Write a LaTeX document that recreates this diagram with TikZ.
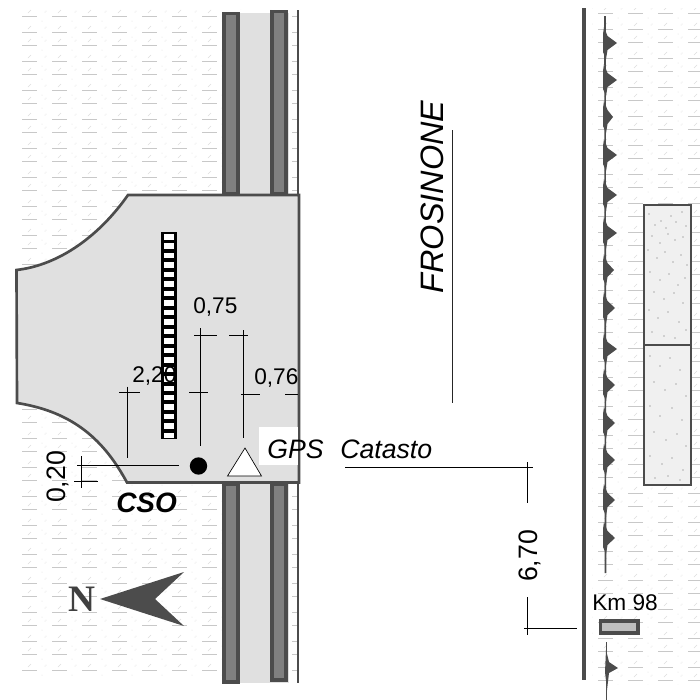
\documentclass[tikz,border=0pt]{standalone}
\usepackage{fontspec}
\setmainfont{Liberation Sans}
\newfontfamily\serifN{Liberation Serif}
\definecolor{ink}{HTML}{4C4C4C}
\definecolor{pale}{HTML}{E0E0E0}
\definecolor{barfill}{HTML}{808080}
\definecolor{hatch}{HTML}{C8C8C8}
\definecolor{speck}{HTML}{DEDEDE}
\tikzset{
  dim/.style={draw=black,line width=0.75pt},
  outl/.style={draw=ink,line width=2pt,line join=miter},
  barb/.style={outl,line width=2.6pt,fill=barfill},
  lab/.style={inner sep=0pt,anchor=base west,font=\fontsize{17}{17}\selectfont},
  labr/.style={inner sep=0pt,anchor=center,rotate=90,font=\fontsize{20}{20}\selectfont},
  tooth/.style={fill=ink,draw=none}
}
\newcommand{\hatchrow}[3]{% x start, y, count
  \foreach \i in {0,...,#3}{
    \pgfmathsetmacro{\xa}{#1+30*\i}
    \draw[hatch,line width=0.6pt] (\xa,#2) -- ++(15,0);
    \draw[speck,line width=0.5pt] (\xa+6,#2-3) -- ++(3,-3);
    \fill[speck] (\xa+20,#2+5) circle (0.5);
    \fill[speck] (\xa-6,#2-5) circle (0.5);
    \fill[speck] (\xa+23,#2-4) circle (0.5);
  }}
\begin{document}
\begin{tikzpicture}[x=0.75pt,y=-0.75pt]
\useasboundingbox (0,0) rectangle (700,700);
\fill[white] (0,0) rectangle (700,700);
% ground hatching
\begin{scope}
\clip (18,8) rectangle (298,684);
\foreach \k in {0,...,22}{
  \pgfmathsetmacro{\ya}{16+29*\k}\hatchrow{22}{\ya}{9}
  \pgfmathsetmacro{\yb}{32+29*\k}\hatchrow{22}{\yb}{9}
}
\end{scope}
\begin{scope}
\clip (592,8) rectangle (700,684);
\foreach \k in {0,...,23}{
  \pgfmathsetmacro{\ya}{13+29*\k}\hatchrow{598}{\ya}{3}
}
\foreach \k in {0,...,22}{
  \pgfmathsetmacro{\yb}{29+29*\k}\hatchrow{598}{\yb}{3}
}
\end{scope}
% road
\fill[white] (222,10) rectangle (291,684);
\fill[pale] (224,13) rectangle (289,683);
\draw[ink,line width=1.8pt] (298,10) -- (298,683);
\draw[barb] (224,13.5) rectangle (238,194);
\draw[barb] (272,11.5) rectangle (286,194);
\draw[barb] (224,484) rectangle (238,682);
\draw[barb] (272,484) rectangle (286,680);
% platform
\draw[outl,fill=pale] (128,195) -- (299,195) -- (299,482.5) -- (127,482.5)
  .. controls (105,442) and (75,412) .. (17,403)
  -- (16.5,270)
  .. controls (60,265) and (100,235) .. (128,195) -- cycle;
% ladder
\fill[black] (160.5,232) rectangle (177,439);
\foreach \r in {0,...,21}{
  \pgfmathsetmacro{\ry}{234+9.47*\r}
  \fill[white] (163.5,\ry) rectangle (174,\ry+5.5);
}
% white label patch
\fill[white] (259,427) rectangle (297.5,465);
% symbols
\node[circle,fill=black,inner sep=0pt,minimum size=13pt] (cso) at (198.5,466) {};
\draw[black,line width=0.5pt,fill=white] (245,448) -- (227.5,476) -- (261.5,476) -- cycle;
% dimensions
\draw[dim] (127.5,386.5) -- (127.5,458);
\draw[dim] (119,392) -- (140,392);
\draw[dim] (200.5,328) -- (200.5,446);
\draw[dim] (194,335) -- (217,335);
\draw[dim] (189,392) -- (208,392);
\draw[dim] (243.5,330) -- (243.5,438);
\draw[dim] (229,335) -- (248,335);
\draw[dim] (241,394) -- (260,394);
\draw[dim] (285,394) -- (298,394);
\draw[dim] (77,465.5) -- (179,465.5);
\draw[dim] (81.5,456) -- (81.5,488);
\draw[dim] (74,481.5) -- (98,481.5);
\draw[dim] (345,467) -- (533,467);
\draw[dim] (527,462) -- (527,503);
\draw[dim] (527,597) -- (527,635);
\draw[dim] (524,628) -- (577,628);
% labels
\node[lab] (l220) at (132,382) {2,20};
\node[lab] (l075) at (193,313) {0,75};
\node[lab] (l076) at (254,384) {0,76};
\node[labr] (l020) at (58,477) {0,20};
\node[labr] (l670) at (530,556) {6,70};
\node[lab,font=\fontsize{20}{20}\selectfont\itshape] (gps) at (267,458) {GPS};
\node[lab,font=\fontsize{20}{20}\selectfont\itshape] (cat) at (340,458) {Catasto};
\node[lab,font=\fontsize{21}{21}\selectfont\bfseries\itshape] (csolab) at (116,512) {CSO};
\node[inner sep=0pt,anchor=center,rotate=90,font=\fontsize{24.3}{24}\selectfont\itshape] (fro) at (432,197) {FROSINONE};
\draw[black!85,line width=0.75pt] (452,130) -- (452,403);
% north
\fill[ink] (100,599) -- (184,572) -- (155,599) -- (184,626) -- cycle;
\node[inner sep=0pt,anchor=center,text=black!75,font=\serifN\bfseries\fontsize{28}{28}\selectfont] (north) at (82,599.5) {N};
% long line
\draw[ink,line width=2.4pt] (584,8) -- (584,680);
% river
\draw[ink,line width=1.2pt] (605,16) -- (605.5,573);
\foreach \t/\w in {43/17,80/17,117/13,155/17,195/17,233/17,270/14,308/15,349/17,385/15,423/15,460/15,500/15,538/15}{
  \fill[tooth] (604,\t-16) -- (607.5,\t-7) -- (570+\w+30,\t+0) -- (607.5,\t+7) -- (606,\t+16) -- (603,\t+9) -- (603,\t-9) -- cycle;
}
\draw[ink,line width=1.2pt] (606.5,642) -- (606.5,700);
\fill[tooth] (606,650) -- (609,662) -- (618,668) -- (609,673) -- (607,690) -- (605,672) -- cycle;
% buildings
\fill[white!94!black] (644,205) rectangle (691,485);
\foreach \px/\py in {649/214,655/225,661/221,666/228,671/216,676/222,682/212,686/226,652/236,660/243,668/234,675/240,683/237,648/250,657/258,665/252,673/262,681/255,687/265,650/272,660/280,669/274,678/285,685/278,654/292,664/299,674/293,683/303,649/310,658/318,668/312,679/322,686/330,652/332,664/336,675/338,650/356,660/366,670/358,680/370,654/382,665/390,676/384,686/396,650/406,660/416,672/408,682/420,654/432,666/440,677/434,686/446,650/456,662/464,672/458,683/470,655/478,668/476,680/480}{
  \fill[black!60] (\px,\py) circle (0.55);
}
\draw[outl,line width=2.2pt] (644,205) rectangle (691,345);
\draw[outl,line width=2.2pt] (644,345) rectangle (691,485);
% km marker
\draw[outl,line width=2.4pt,fill=black!25] (600.5,621) rectangle (638,633);
\node[lab,font=\fontsize{17}{17}\selectfont] (km) at (592,610) {Km 98};
\end{tikzpicture}
\end{document}
